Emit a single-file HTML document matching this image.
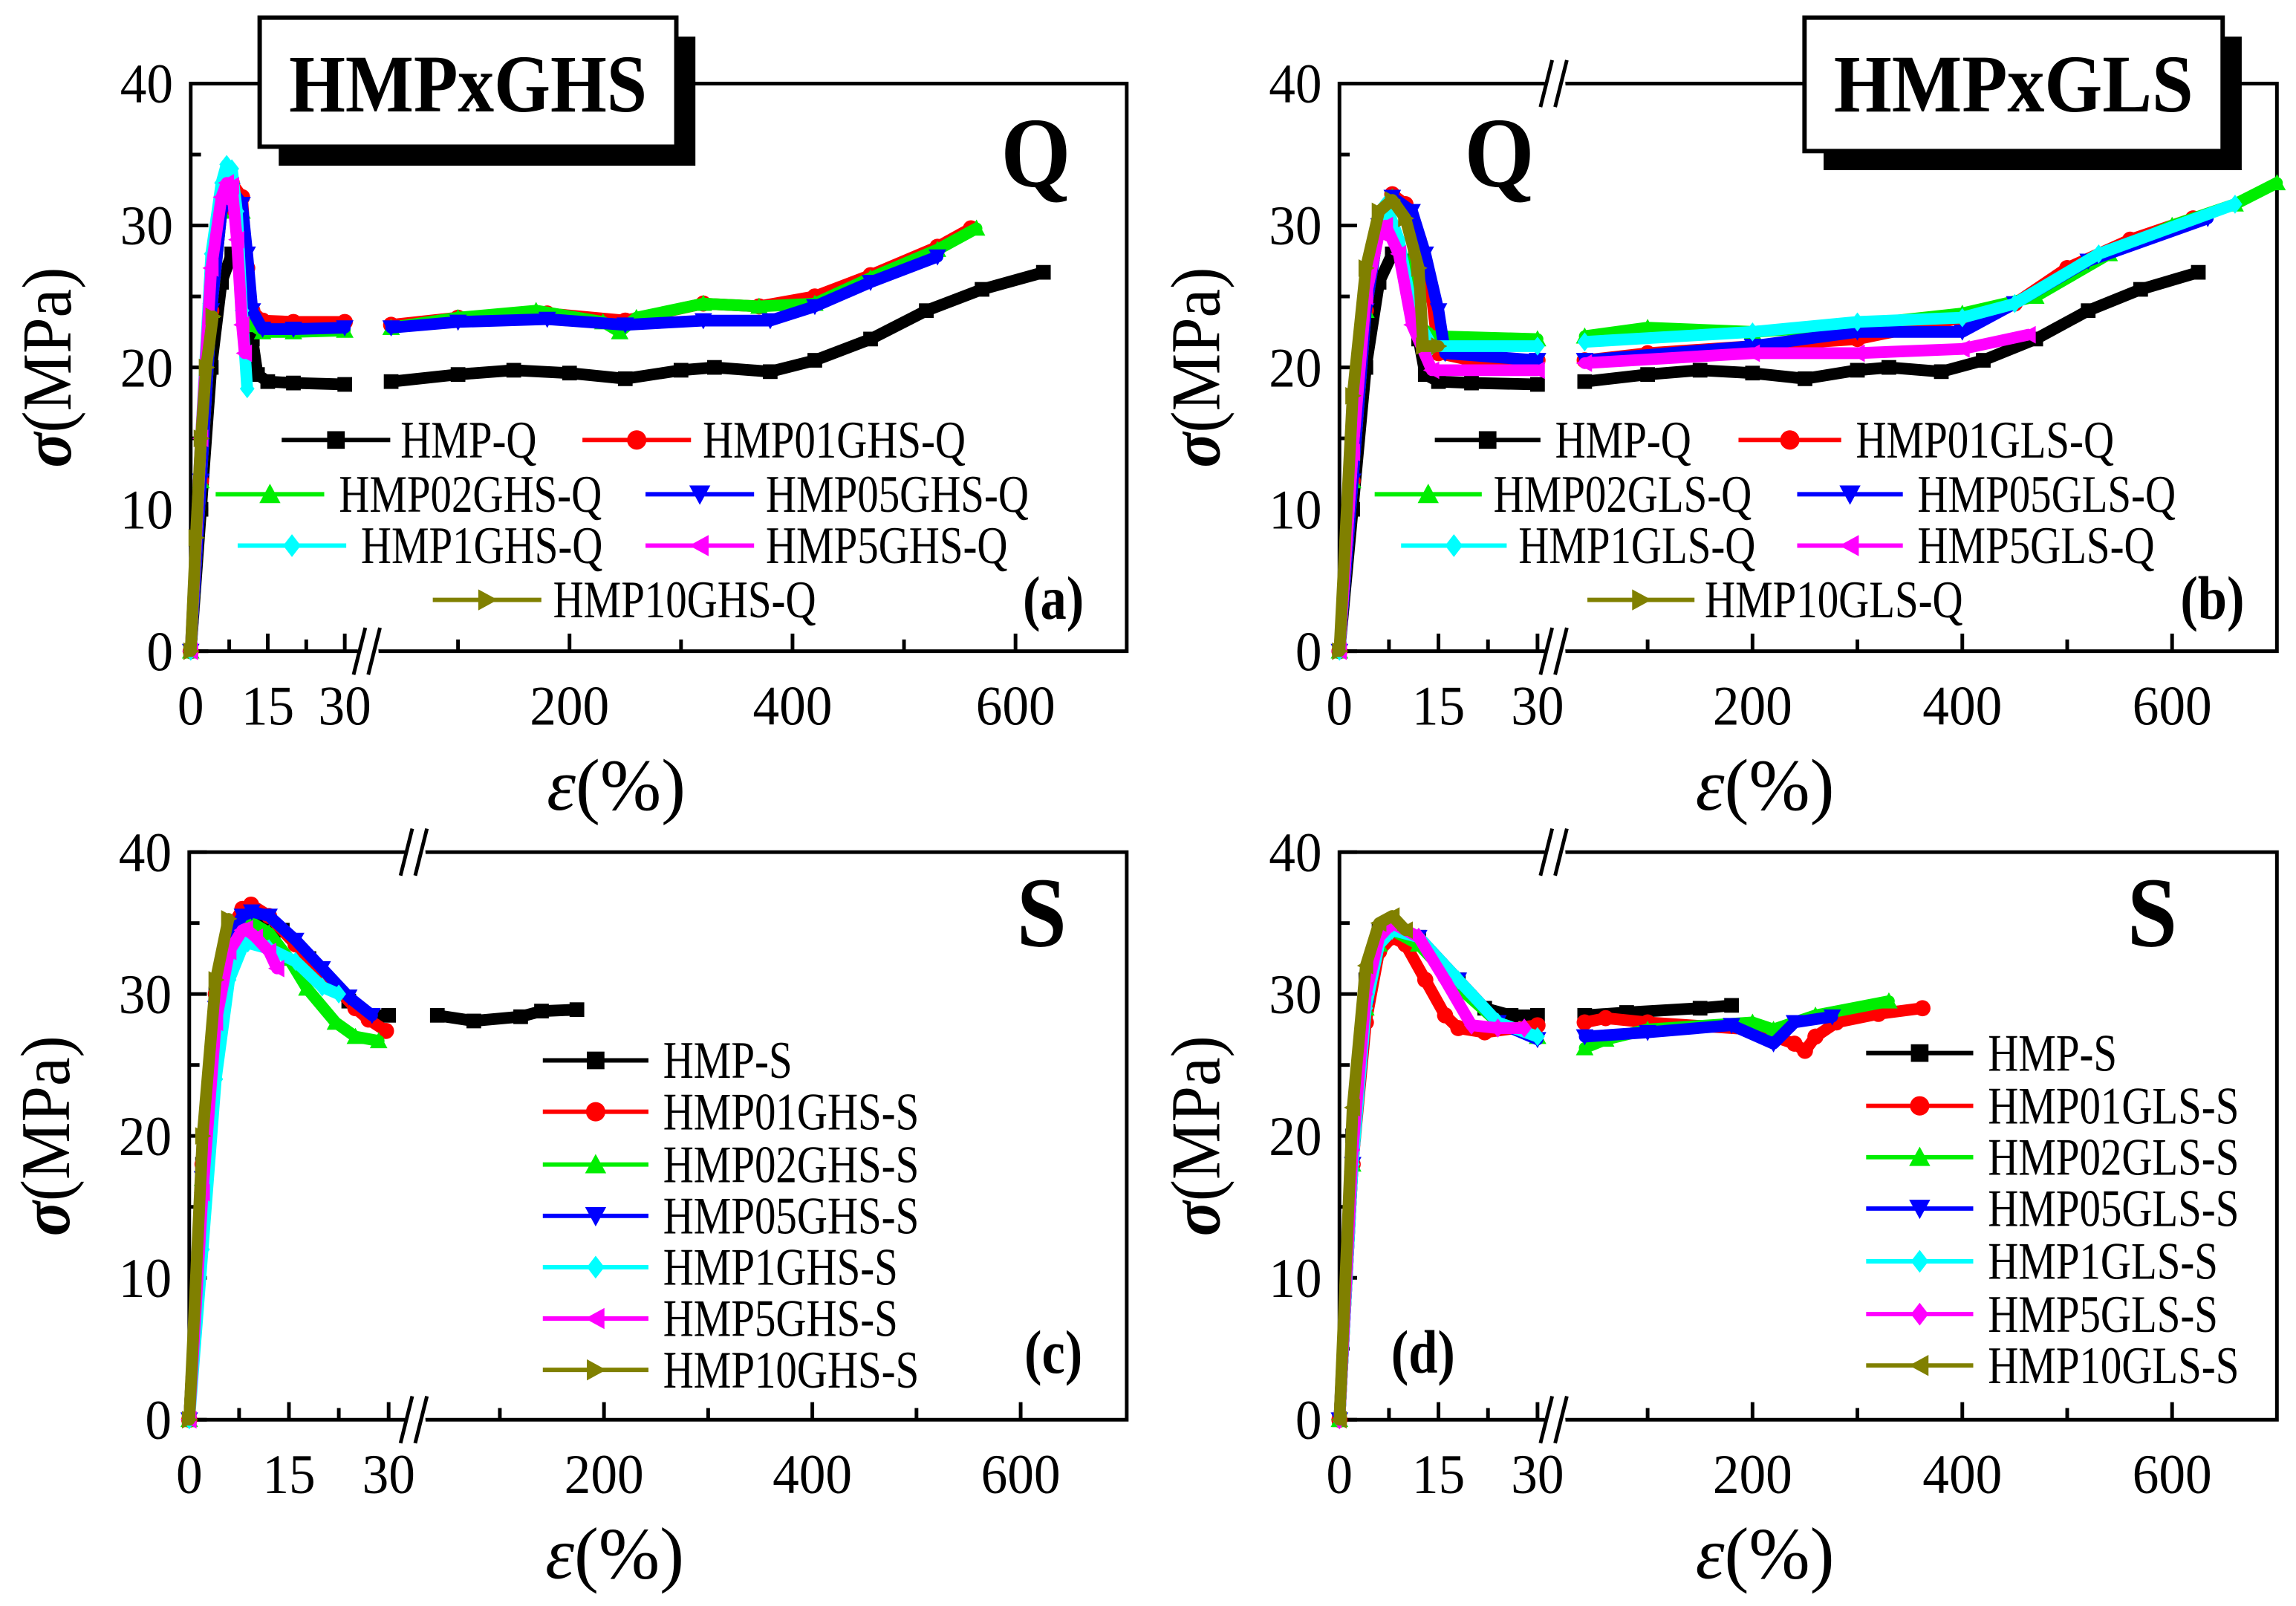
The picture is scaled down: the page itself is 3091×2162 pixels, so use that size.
<!DOCTYPE html>
<html><head><meta charset="utf-8"><style>
html,body{margin:0;padding:0;background:#fff;}
svg{display:block;}
text{font-family:"Liberation Serif",serif;fill:#000;}
</style></head><body>
<svg id="fig" xmlns="http://www.w3.org/2000/svg" width="3091" height="2162" viewBox="0 0 1565 1095" preserveAspectRatio="none">
<rect x="0" y="0" width="1565" height="1095" fill="#fff"/>
</svg>
<script>
// ---- data (strain %, stress MPa) ----
const a_hmp_x=[0,2,4,6,8,10,12,13,15,20,30,40,100,150,200,250,300,330,380,420,470,520,570,625];
const a_hmp_y=[0,10,20,26,28,27.5,22,19.5,19,18.9,18.8,19,19.5,19.8,19.6,19.2,19.8,20,19.7,20.5,22,24,25.5,26.7];
const a_01_x=[0,2,4,6,8,10,11,12,14,20,30,40,100,180,250,320,370,420,470,530,560];
const a_01_y=[0,12,24,31,33,32,27,24,23.3,23.2,23.2,23,23.5,23.8,23.3,24.5,24.3,25,26.5,28.5,29.8];
const a_02_x=[0,2,4,6,8,10,11,12,14,20,30,40,100,170,230,245,260,320,370,420,470,530,565];
const a_02_y=[0,12,24,31,32.5,31,26,23,22.5,22.5,22.6,22.8,23.5,24,23.2,22.5,23.5,24.5,24.3,24.5,26.3,28.3,29.8];
const a_05_x=[0,2,4,6,8,10,11,12,14,20,30,40,100,180,250,320,380,420,470,530];
const a_05_y=[0,12,24,31,32.5,31.5,28,24,22.7,22.7,22.8,22.8,23.2,23.4,23,23.3,23.3,24.3,26,27.8];
const a_1_x=[0,2,4,6,7,8,9,10,11];
const a_1_y=[0,15,28,33,34.3,34,31,24,18.5];
const a_5_x=[0,2,4,6,7,8,9,10,10.5];
const a_5_y=[0,15,27,32,33,32.8,29,23,21];
const a_10_x=[0,1,2,3,4.3];
const a_10_y=[0,8,15,20,23.6];

const b_hmp_x=a_hmp_x.slice();
const b_hmp_y=a_hmp_y.slice();
const b_01_x=[0,2,4,6,8,10,12,14,15,20,30,40,100,200,300,400,450,500,560,620];
const b_01_y=[0,12,24,30,32.2,31.5,29,25,21,20.5,20.5,20.5,21,21.5,22,23.5,24.5,27,29,30.5];
const b_02_x=[0,2,4,6,8,11,12,14,30,40,100,200,300,400,470,540,600,660,700];
const b_02_y=[0,12,24,30,32,30,23,22.2,22,22.2,22.8,22.5,23,23.8,25,28,30,31.5,33];
const b_05_x=[0,2,4,6,8,11,13,15,16,30,40,200,300,400,450,520,634];
const b_05_y=[0,12,24,30,32,31,28,24,21,20.5,20.5,21.5,22.5,22.5,24.5,27.5,30.5];
const b_1_x=[0,2,4,6,7,9,11,14,30,40,200,300,400,450,530,660];
const b_1_y=[0,14,26,30.5,31.5,29,24,21.5,21.5,21.8,22.5,23.2,23.5,24.5,28,31.5];
const b_5_x=[0,2,4,6,7,9,11,14,30,40,200,300,400,463];
const b_5_y=[0,14,25,29.5,30,28,23,19.8,19.8,20.3,21,21,21.3,22.3];
const b_10_x=[0,2,4,6,8,10,12,12.7,15];
const b_10_y=[0,18,27,31,31.8,30.5,27,21.5,21.5];

const c_hmp_x=[0,2,4,6,8,10,14,18,24,27,30,40,75,120,140,174];
const c_hmp_y=[0,18,30,34.5,35.6,35.6,34.5,32.5,29.5,28.5,28.5,28.5,28.1,28.4,28.8,28.9];
const c_01_x=[0,2,4,6,8,9.3,12,16,20,25,27,29.6];
const c_01_y=[0,18,30,34.5,36,36.3,35.5,33.5,31.5,29,28.2,27.4];
const c_02_x=[0,2,4,6,8,9.5,12,15,17.7,22,25,28.5];
const c_02_y=[0,17,29,33.5,34.8,35,34.3,32.5,30.4,28,27,26.7];
const c_05_x=[0,2,4,6,8,9.4,12,16,20,24,27.5];
const c_05_y=[0,17,29,34,35.5,35.8,35.5,33.8,31.8,29.8,28.5];
const c_1_x=[0,2,4,6,8,8.8,12,16,20,22.5];
const c_1_y=[0,12,24,31,33.3,33.6,33.2,32.3,30.5,30];
const c_5_x=[0,2,4,6,8,8.5,10,12,13.2];
const c_5_y=[0,16,28,33,34.5,34.6,34,33,31.8];
const c_10_x=[0,2,4,5.9];
const c_10_y=[0,20,31,35.3];

const d_hmp_x=[0,2,4,6,8,12,18,22,26,30,40,80,150,180];
const d_hmp_y=[0,20,31,34.5,35,34,31,29,28.5,28.5,28.5,28.7,29,29.2];
const d_01_x=[0,2,4,6,8,10,13,16,18,22,30,40,60,100,200,240,250,260,280,320,362];
const d_01_y=[0,18,28,33,34,33.5,31,28.5,27.6,27.3,27.8,28,28.3,28,27.5,26.5,26,27,28,28.6,29];
const d_02_x=[0,2,4,6,8,12,18,24,30,40,60,100,200,220,260,330];
const d_02_y=[0,18,29,33.5,34.5,33.5,30.5,28,27,26.2,26.8,27.5,28,27.5,28.5,29.5];
const d_05_x=[0,2,4,6,8,12,18,24,30,40,100,180,220,240,276];
const d_05_y=[0,18,29,33.5,34.5,34,31,28,26.8,27,27.3,27.8,26.5,28,28.4];
const d_1_x=[0,2,4,6,8,12,18,24,30];
const d_1_y=[0,18,29,33.5,34.5,34,31,28,27];
const d_5_x=[0,2,4,6,8,12,16,20,24,28];
const d_5_y=[0,19,30,34,35,34,31,27.8,27.6,27.6];
const d_10_x=[0,2,4,6,8,10];
const d_10_y=[0,22,32,35,35.5,34.5];

const colors=["#000000","#ff0000","#00ee00","#0000ff","#00ffff","#ff00ff","#808000"];
const markersQ=["square","circle","up","down","diamond","left","right"];
const markersD=["square","circle","up","down","diamond","diamond","left"];
const namesA=["HMP-Q","HMP01GHS-Q","HMP02GHS-Q","HMP05GHS-Q","HMP1GHS-Q","HMP5GHS-Q","HMP10GHS-Q"];
const namesB=["HMP-Q","HMP01GLS-Q","HMP02GLS-Q","HMP05GLS-Q","HMP1GLS-Q","HMP5GLS-Q","HMP10GLS-Q"];
const namesC=["HMP-S","HMP01GHS-S","HMP02GHS-S","HMP05GHS-S","HMP1GHS-S","HMP5GHS-S","HMP10GHS-S"];
const namesD=["HMP-S","HMP01GLS-S","HMP02GLS-S","HMP05GLS-S","HMP1GLS-S","HMP5GLS-S","HMP10GLS-S"];
const yTicks=[0,10,20,30,40];
const xTicksLeft=[0,15,30];
const xTicksRight=[200,400,600];

const NS="http://www.w3.org/2000/svg";
const svg=document.getElementById('fig');
function mk(tag,attrs,parent){const e=document.createElementNS(NS,tag);for(const k in attrs)e.setAttribute(k,attrs[k]);(parent||svg).appendChild(e);return e;}
function txt(x,y,s,size,opt,parent){opt=opt||{};
 const e=mk('text',{transform:`translate(${x},${y}) scale(${opt.sx||1},1)`,'font-size':size,'text-anchor':opt.anchor||'start','font-weight':opt.bold?'bold':'normal','font-style':opt.italic?'italic':'normal'},parent);
 e.textContent=s;return e;}

const P={
 a:{x0:130,k1:3.5,x30:259,k2:0.76,T:57,B:444,R:768,brk:251},
 b:{x0:913,k1:4.5,x30:1073,k2:0.715,T:57,B:444,R:1552,brk:1060},
 c:{x0:129,k1:4.53,x30:291,k2:0.71,T:581,B:968,R:768,brk:283},
 d:{x0:913,k1:4.5,x30:1073,k2:0.715,T:581,B:968,R:1552,brk:1060}
};
function X(p,v){return v<=30? p.x0+p.k1*v : p.x30+p.k2*(v-30);}
function Y(p,s){return p.B-s*(p.B-p.T)/40;}

function marker(g,type,x,y,r,col){
 let e;
 if(type==='square') e=mk('rect',{x:x-r,y:y-r,width:2*r,height:2*r,fill:col},g);
 else if(type==='circle') e=mk('circle',{cx:x,cy:y,r:r*1.1,fill:col},g);
 else {let pts;
  if(type==='up') pts=[[x,y-r*1.2],[x-r*1.2,y+r],[x+r*1.2,y+r]];
  else if(type==='down') pts=[[x,y+r*1.2],[x-r*1.2,y-r],[x+r*1.2,y-r]];
  else if(type==='diamond') pts=[[x,y-r*1.3],[x+r,y],[x,y+r*1.3],[x-r,y]];
  else if(type==='left') pts=[[x-r*1.2,y],[x+r,y-r*1.2],[x+r,y+r*1.2]];
  else pts=[[x+r*1.2,y],[x-r,y-r*1.2],[x-r,y+r*1.2]];
  e=mk('polygon',{points:pts.map(q=>q.join(',')).join(' '),fill:col},g);}
 return e;
}

function series(p,xs,ys,i,name,key,mks){
 const g=mk('g',{});
 
 
 let segL=[],segR=[];
 for(let j=0;j<xs.length;j++){const pt=X(p,xs[j]).toFixed(1)+','+Y(p,ys[j]).toFixed(1);(xs[j]<=30?segL:segR).push(pt);}
 [segL,segR].forEach(s=>{if(s.length>1){const l=mk('polyline',{points:s.join(' '),fill:'none',stroke:colors[i],'stroke-width':8,'stroke-linejoin':'round','stroke-linecap':'round'},g);
  }});
 for(let j=0;j<xs.length;j++){const m=marker(g,mks[i],X(p,xs[j]),Y(p,ys[j]),5,colors[i]);
  }
}

function axes(p,key){
 const g=mk('g',{});
 
 
 const L=p.x0;
 mk('rect',{x:L,y:p.T,width:p.R-L,height:p.B-p.T,fill:'none',stroke:'#000','stroke-width':2.5},g);
 for(let v=0;v<=40;v+=5){const y=Y(p,v);const len=v%10===0?12:7;
  mk('line',{x1:L,y1:y,x2:L+len,y2:y,stroke:'#000','stroke-width':2.5},g);}
 yTicks.forEach(v=>{const t=txt(L-12,Y(p,v)+13,String(v),38,{anchor:'end',sx:0.95},g);
  });
 [0,7.5,15,22.5,30].forEach(v=>{const len=(v%15===0)?12:8;const x=X(p,v);
  mk('line',{x1:x,y1:p.B,x2:x,y2:p.B-len,stroke:'#000','stroke-width':2.5},g);});
 [100,200,300,400,500,600].forEach(v=>{const len=(v%200===0)?12:8;const x=X(p,v);
  mk('line',{x1:x,y1:p.B,x2:x,y2:p.B-len,stroke:'#000','stroke-width':2.5},g);});
 xTicksLeft.concat(xTicksRight).forEach(v=>{const t=txt(X(p,v),p.B+50,String(v),38,{anchor:'middle',sx:0.95},g);
  });
 [p.T,p.B].forEach(y=>{
  mk('polygon',{points:`${p.brk-8},${y-14} ${p.brk+6},${y-14} ${p.brk+8},${y+14} ${p.brk-6},${y+14}`,fill:'#fff'},g);
  mk('line',{x1:p.brk-10,y1:y+16,x2:p.brk-2,y2:y-16,stroke:'#000','stroke-width':2.5},g);
  mk('line',{x1:p.brk,y1:y+16,x2:p.brk+8,y2:y-16,stroke:'#000','stroke-width':2.5},g);
 });
 const yc=(p.T+p.B)/2;
 const yt=mk('text',{transform:`translate(${L-82},${yc}) rotate(-90) scale(0.92,1)`,'font-size':48,'text-anchor':'middle'},g);
 
 const s1=mk('tspan',{'font-weight':'bold','font-style':'italic'},yt);s1.textContent='σ';
 const s2=mk('tspan',{},yt);s2.textContent='(MPa)';
 const xt=mk('text',{transform:`translate(${L+290},${p.B+108})`,'font-size':50,'text-anchor':'middle'},g);
 
 const e1=mk('tspan',{'font-style':'italic'},xt);e1.textContent='ε';
 const e2=mk('tspan',{},xt);e2.textContent='(%)';
}

function legendEntry(x1,x2,tx,y,i,label,mks){
 const g=mk('g',{});
 
 
 mk('line',{x1:x1,y1:y,x2:x2,y2:y,stroke:colors[i],'stroke-width':3},g);
 marker(g,mks[i],(x1+x2)/2,y,6,colors[i]);
 txt(tx,y+12,label,36,{sx:0.8},g);
}

function titleBox(x,y,w,h,label,name){
 const g=mk('g',{});
 
 
 mk('rect',{x:x+13,y:y+13,width:w,height:h,fill:'#000'},g);
 mk('rect',{x:x,y:y,width:w,height:h,fill:'#fff',stroke:'#000','stroke-width':3},g);
 const t=mk('text',{x:x+w/2,y:y+64,'font-size':56,'font-weight':'bold','text-anchor':'middle',textLength:w-40,lengthAdjust:'spacingAndGlyphs'},g);
 t.textContent=label;
}

const panelData={
 a:[[a_hmp_x,a_hmp_y],[a_01_x,a_01_y],[a_02_x,a_02_y],[a_05_x,a_05_y],[a_1_x,a_1_y],[a_5_x,a_5_y],[a_10_x,a_10_y]],
 b:[[b_hmp_x,b_hmp_y],[b_01_x,b_01_y],[b_02_x,b_02_y],[b_05_x,b_05_y],[b_1_x,b_1_y],[b_5_x,b_5_y],[b_10_x,b_10_y]],
 c:[[c_hmp_x,c_hmp_y],[c_01_x,c_01_y],[c_02_x,c_02_y],[c_05_x,c_05_y],[c_1_x,c_1_y],[c_5_x,c_5_y],[c_10_x,c_10_y]],
 d:[[d_hmp_x,d_hmp_y],[d_01_x,d_01_y],[d_02_x,d_02_y],[d_05_x,d_05_y],[d_1_x,d_1_y],[d_5_x,d_5_y],[d_10_x,d_10_y]]
};
const names={a:namesA,b:namesB,c:namesC,d:namesD};
const mkset={a:markersQ,b:markersQ,c:markersQ,d:markersD};

['a','b','c','d'].forEach(k=>{
 const p=P[k];
 axes(p,k);
 panelData[k].forEach((s,i)=>series(p,s[0],s[1],i,names[k][i],k,mkset[k]));
});

legendEntry(192,266,273,300,0,namesA[0],markersQ);
legendEntry(397,471,479,300,1,namesA[1],markersQ);
legendEntry(147,221,231,337,2,namesA[2],markersQ);
legendEntry(440,514,522,337,3,namesA[3],markersQ);
legendEntry(162,236,246,372,4,namesA[4],markersQ);
legendEntry(440,514,522,372,5,namesA[5],markersQ);
legendEntry(295,369,377,409,6,namesA[6],markersQ);

legendEntry(978,1050,1060,300,0,namesB[0],markersQ);
legendEntry(1185,1255,1265,300,1,namesB[1],markersQ);
legendEntry(937,1010,1018,337,2,namesB[2],markersQ);
legendEntry(1225,1297,1307,337,3,namesB[3],markersQ);
legendEntry(955,1027,1035,372,4,namesB[4],markersQ);
legendEntry(1225,1297,1307,372,5,namesB[5],markersQ);
legendEntry(1082,1155,1162,409,6,namesB[6],markersQ);

[723,758,794,829,864,899,934].forEach((y,i)=>legendEntry(370,442,452,y,i,namesC[i],markersQ));
[718,754,789,824,860,896,931].forEach((y,i)=>legendEntry(1272,1345,1355,y,i,namesD[i],markersD));

titleBox(177,12,284,88,'HMPxGHS','title-box-ghs');
titleBox(1230,12,285,91,'HMPxGLS','title-box-gls');

function lab(x,y,s,size,name,sx){const t=txt(x,y,s,size,{bold:true,anchor:'middle',sx:sx||1});}
lab(706,127,'Q',68,'mode-label-q-a',0.9);
lab(1022,127,'Q',68,'mode-label-q-b',0.9);
lab(710,645,'S',68,'mode-label-s-c',0.9);
lab(1467,645,'S',68,'mode-label-s-d',0.9);
lab(718,422,'(a)',42,'panel-label-a',0.85);
lab(1508,422,'(b)',42,'panel-label-b',0.85);
lab(718,936,'(c)',42,'panel-label-c',0.85);
lab(970,936,'(d)',42,'panel-label-d',0.85);
</script>
</body></html>
